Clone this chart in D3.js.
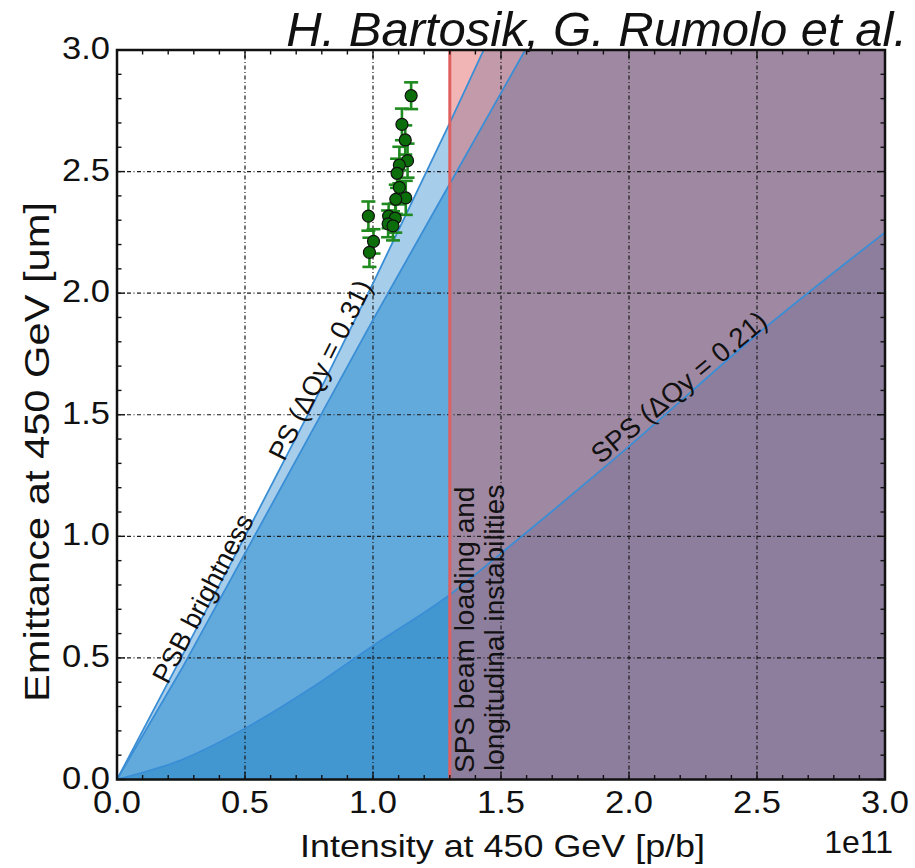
<!DOCTYPE html>
<html>
<head>
<meta charset="utf-8">
<script src="https://cdn.jsdelivr.net/npm/d3@7"></script>
<style>
  html, body { margin: 0; padding: 0; background: #fff; }
  svg { display: block; }
  text { font-family: "Liberation Sans", Arial, Helvetica, sans-serif; fill: #111; }
</style>
</head>
<body>
<svg id="chart" width="915" height="868"></svg>
<script>
// PSB brightness limit (intensity in 1e11 p/b, emittance in um)
const psbIntensity = [0, 0.25, 0.5, 0.75, 1.0, 1.3, 1.45];
const psbEmittance = [0, 0.50, 1.00, 1.51, 2.04, 2.70, 3.04];

// PS space-charge limit, dQy = 0.31
const psIntensity = [0, 0.25, 0.5, 0.75, 1.0, 1.3, 1.6];
const psEmittance = [0, 0.45, 0.93, 1.41, 1.89, 2.45, 3.01];

// SPS space-charge limit, dQy = 0.21
const spsIntensity = [0, 0.25, 0.5, 0.75, 1.0, 1.3, 1.5, 2.0, 2.5, 3.0];
const spsEmittance = [0, 0.08, 0.21, 0.37, 0.55, 0.76, 0.93, 1.37, 1.83, 2.25];

// SPS beam loading / longitudinal instability threshold
const spsLoadingLimit = 1.3;

// measured beams
const measIntensity = [1.149, 1.113, 1.126, 1.135, 1.103, 1.094, 1.103, 1.128,
                       1.089, 0.982, 1.061, 1.087, 1.059, 1.078, 1.002, 0.986];
const measEmittance = [2.812, 2.694, 2.630, 2.545, 2.527, 2.493, 2.435, 2.392,
                       2.386, 2.317, 2.317, 2.309, 2.285, 2.277, 2.213, 2.168];
const measError     = [0.055, 0.065, 0.060, 0.070, 0.075, 0.060, 0.070, 0.070,
                       0.060, 0.060, 0.050, 0.060, 0.055, 0.060, 0.050, 0.060];

// axis ticks
const majorTicks = [0, 0.5, 1.0, 1.5, 2.0, 2.5, 3.0];
const tickLabels = ["0.0", "0.5", "1.0", "1.5", "2.0", "2.5", "3.0"];
const minorTicks = d3.range(0, 31).map(i => i / 10);

const svg = d3.select("#chart");
const plotLeft = 117, plotRight = 885, plotTop = 50, plotBottom = 779.5;
const xMax = 3, yMax = 3;

const x = d3.scaleLinear().domain([0, xMax]).range([plotLeft, plotRight]);
const y = d3.scaleLinear().domain([0, yMax]).range([plotBottom, plotTop]);

const zip = (a, b) => a.map((v, i) => [v, b[i]]);
const psb = zip(psbIntensity, psbEmittance);
const ps = zip(psIntensity, psEmittance);
const sps = zip(spsIntensity, spsEmittance);

svg.append("defs").append("clipPath").attr("id", "plotClip")
  .append("rect").attr("x", plotLeft).attr("y", plotTop)
  .attr("width", plotRight - plotLeft).attr("height", plotBottom - plotTop);

const plot = svg.append("g").attr("clip-path", "url(#plotClip)");

// a region under a limit curve; once the curve leaves the top of the
// axes the whole column up to the top edge stays inside the region
function regionPath(curve, smooth) {
  const last = curve[curve.length - 1];
  const pts = last[0] < xMax ? curve.concat([[xMax, Math.max(last[1], yMax)]]) : curve;
  return d3.area()
    .x(d => x(d[0])).y0(y(0)).y1(d => y(d[1]))
    .curve(smooth ? d3.curveMonotoneX : d3.curveLinear)(pts);
}
const lineLinear = d3.line().x(d => x(d[0])).y(d => y(d[1]));
const lineSmooth = d3.line().x(d => x(d[0])).y(d => y(d[1])).curve(d3.curveMonotoneX);

// allowed regions below each limit
plot.append("path").attr("d", regionPath(psb, false)).attr("fill", "#a6cdea");
plot.append("path").attr("d", regionPath(ps, false)).attr("fill", "#62aadc");
plot.append("path").attr("d", regionPath(sps, true)).attr("fill", "#4397d1");

// excluded region beyond the SPS beam loading threshold
plot.append("rect")
  .attr("x", x(spsLoadingLimit)).attr("y", y(yMax))
  .attr("width", x(xMax) - x(spsLoadingLimit)).attr("height", y(0) - y(yMax))
  .attr("fill", "rgb(227,97,98)").attr("fill-opacity", 0.47);

// grid
const grid = plot.append("g")
  .attr("stroke", "#1a1a1a").attr("stroke-width", 1.2)
  .attr("stroke-dasharray", "4,2.5,1,2.5");
majorTicks.slice(1, -1).forEach(v => {
  grid.append("line").attr("x1", x(v)).attr("x2", x(v)).attr("y1", y(0)).attr("y2", y(yMax));
  grid.append("line").attr("y1", y(v)).attr("y2", y(v)).attr("x1", x(0)).attr("x2", x(xMax));
});

// limit curves
plot.append("path").attr("d", lineLinear(psb))
  .attr("fill", "none").attr("stroke", "#3a8ed6").attr("stroke-width", 1.8);
plot.append("path").attr("d", lineLinear(ps))
  .attr("fill", "none").attr("stroke", "#3a8ed6").attr("stroke-width", 1.8);
plot.append("path").attr("d", lineSmooth(sps))
  .attr("fill", "none").attr("stroke", "#3a8ed6").attr("stroke-width", 1.8);

// SPS beam loading threshold
plot.append("line")
  .attr("x1", x(spsLoadingLimit)).attr("x2", x(spsLoadingLimit))
  .attr("y1", y(0)).attr("y2", y(yMax))
  .attr("stroke", "#e05f5f").attr("stroke-width", 3);

// labels along the curves
function at(curve, t) {
  const xs = curve.map(d => d[0]), ys = curve.map(d => d[1]);
  const i = Math.max(1, Math.min(xs.length - 1, d3.bisectLeft(xs, t)));
  const f = (t - xs[i - 1]) / (xs[i] - xs[i - 1]);
  return [x(t), y(ys[i - 1] + f * (ys[i] - ys[i - 1]))];
}
function curveLabel(curve, t0, t1, text, size, offset) {
  const p0 = at(curve, t0), p1 = at(curve, t1);
  const ang = Math.atan2(p1[1] - p0[1], p1[0] - p0[0]) * 180 / Math.PI;
  svg.append("text")
    .attr("transform", `translate(${p0[0]},${p0[1]}) rotate(${ang})`)
    .attr("dy", -offset)
    .attr("font-size", size)
    .attr("fill", "#1a1a1a")
    .text(text);
}
curveLabel(psb, 0.195, 0.52, "PSB brightness", 27, -1);
curveLabel(psb, 0.65, 1.0, "PS (\u0394Qy = 0.31)", 27, -1);
curveLabel(sps, 1.9, 3.0, "SPS (\u0394Qy = 0.21)", 27.5, 4);

// threshold label
svg.append("text")
  .attr("transform", `translate(${x(spsLoadingLimit) + 24},773) rotate(-90)`)
  .attr("font-size", 28).attr("fill", "#1a1a1a")
  .text("SPS beam loading and");
svg.append("text")
  .attr("transform", `translate(${x(spsLoadingLimit) + 54},771) rotate(-90)`)
  .attr("font-size", 28).attr("fill", "#1a1a1a")
  .text("longitudinal instabilities");

// measurements with error bars
const meas = measIntensity.map((v, i) => ({ i: v, e: measEmittance[i], err: measError[i] }));
const eb = svg.append("g").attr("stroke", "#1f8a1f").attr("stroke-width", 2.6);
meas.forEach(d => {
  const cx = x(d.i);
  eb.append("line").attr("x1", cx).attr("x2", cx).attr("y1", y(d.e - d.err)).attr("y2", y(d.e + d.err));
  eb.append("line").attr("x1", cx - 7).attr("x2", cx + 7).attr("y1", y(d.e - d.err)).attr("y2", y(d.e - d.err));
  eb.append("line").attr("x1", cx - 7).attr("x2", cx + 7).attr("y1", y(d.e + d.err)).attr("y2", y(d.e + d.err));
});
svg.append("g").selectAll("circle").data(meas).join("circle")
  .attr("cx", d => x(d.i)).attr("cy", d => y(d.e)).attr("r", 6)
  .attr("fill", "#0b6e0b").attr("stroke", "#111").attr("stroke-width", 1.2);

// frame and ticks
const axes = svg.append("g").attr("stroke", "#111");
axes.append("rect").attr("x", plotLeft).attr("y", plotTop)
  .attr("width", plotRight - plotLeft).attr("height", plotBottom - plotTop)
  .attr("fill", "none").attr("stroke-width", 2.5);
minorTicks.forEach(v => {
  const major = majorTicks.some(m => Math.abs(m - v) < 1e-9);
  const len = major ? 8 : 4.5;
  axes.append("line").attr("x1", x(v)).attr("x2", x(v)).attr("y1", plotBottom).attr("y2", plotBottom - len).attr("stroke-width", 1.4);
  axes.append("line").attr("x1", x(v)).attr("x2", x(v)).attr("y1", plotTop).attr("y2", plotTop + len).attr("stroke-width", 1.4);
  axes.append("line").attr("y1", y(v)).attr("y2", y(v)).attr("x1", plotLeft).attr("x2", plotLeft + len).attr("stroke-width", 1.4);
  axes.append("line").attr("y1", y(v)).attr("y2", y(v)).attr("x1", plotRight).attr("x2", plotRight - len).attr("stroke-width", 1.4);
});

// tick labels
majorTicks.forEach((v, i) => {
  svg.append("text").attr("x", x(v)).attr("y", 813)
    .attr("text-anchor", "middle").attr("font-size", 31)
    .attr("textLength", 48).attr("lengthAdjust", "spacingAndGlyphs")
    .text(tickLabels[i]);
  svg.append("text").attr("x", 110 - 48).attr("y", y(v) + 9)
    .attr("font-size", 31)
    .attr("textLength", 48).attr("lengthAdjust", "spacingAndGlyphs")
    .text(tickLabels[i]);
});

// axis titles
svg.append("text").attr("x", 300).attr("y", 857)
  .attr("font-size", 32).attr("textLength", 405).attr("lengthAdjust", "spacingAndGlyphs")
  .text("Intensity at 450 GeV [p/b]");
svg.append("text").attr("x", 893).attr("y", 853)
  .attr("text-anchor", "end").attr("font-size", 32)
  .text("1e11");
svg.append("text")
  .attr("transform", "translate(49,452) rotate(-90)")
  .attr("text-anchor", "middle").attr("font-size", 35)
  .attr("textLength", 500).attr("lengthAdjust", "spacingAndGlyphs")
  .text("Emittance at 450 GeV [um]");

// author credit
svg.append("text").attr("x", 907).attr("y", 46)
  .attr("text-anchor", "end").attr("font-size", 49).attr("font-style", "italic")
  .text("H. Bartosik, G. Rumolo et al.");
</script>
</body>
</html>
